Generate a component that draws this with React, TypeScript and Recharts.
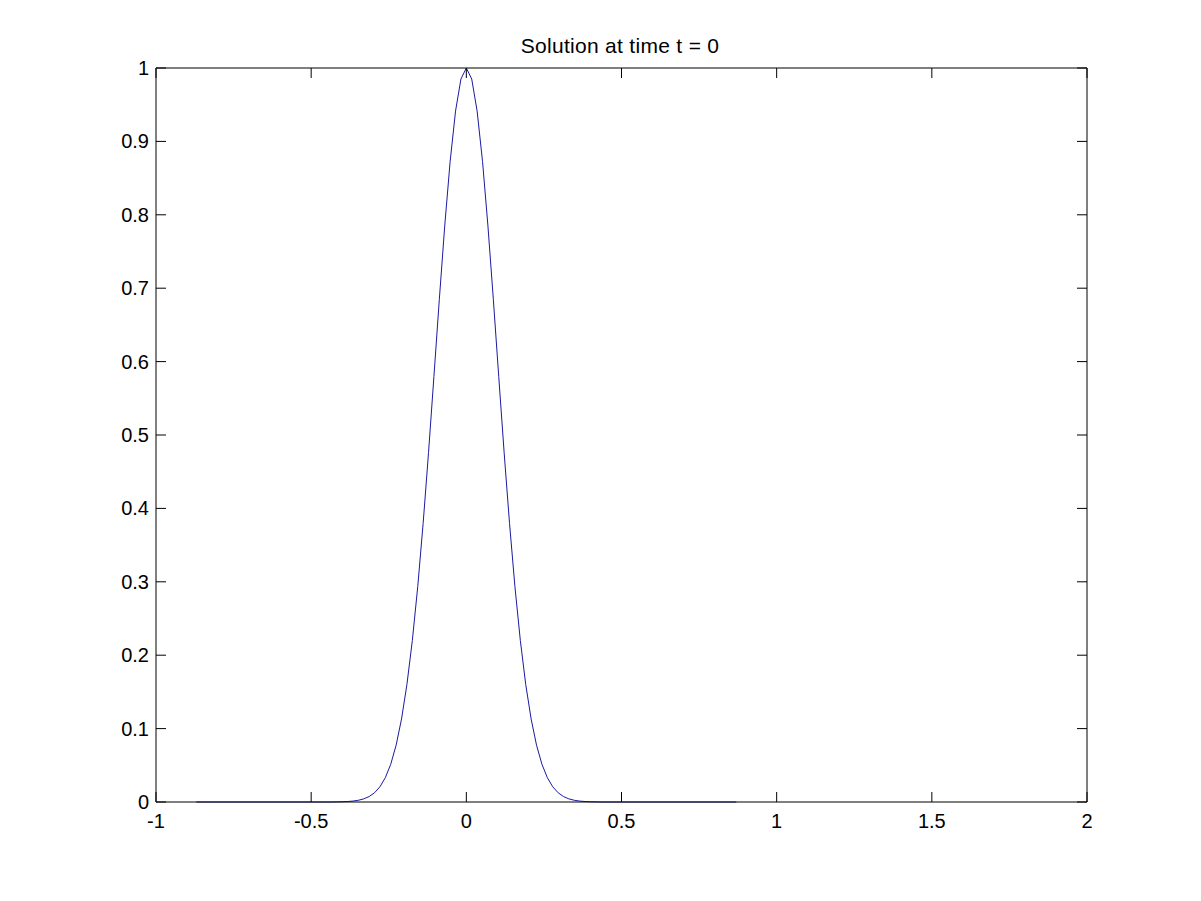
import { LineChart, Line, XAxis, YAxis } from "recharts";

// profile (grid step ~0.0174, flat zero tails)
const xs = [
  -0.87, -0.435, -0.4176, -0.4002, -0.3828, -0.3654, -0.348, -0.3306, -0.3132, -0.2958,
  -0.2784, -0.261, -0.2436, -0.2262, -0.2088, -0.1914, -0.174, -0.1566, -0.1392, -0.1218,
  -0.1044, -0.087, -0.0696, -0.0522, -0.0348, -0.0174, 0, 0.0174, 0.0348, 0.0522,
  0.0696, 0.087, 0.1044, 0.1218, 0.1392, 0.1566, 0.174, 0.1914, 0.2088, 0.2262,
  0.2436, 0.261, 0.2784, 0.2958, 0.3132, 0.3306, 0.348, 0.3654, 0.3828, 0.4002,
  0.4176, 0.435, 0.87,
];
const ys = [
  0, 0, 0.00016, 0.00033, 0.00066, 0.00126, 0.00234, 0.00423, 0.00741, 0.01259,
  0.02075, 0.03317, 0.05145, 0.07745, 0.1131, 0.16017, 0.22006, 0.29341, 0.37953, 0.47627,
  0.57987, 0.68494, 0.78489, 0.87263, 0.94124, 0.98498, 1, 0.98498, 0.94124, 0.87263,
  0.78489, 0.68494, 0.57987, 0.47627, 0.37953, 0.29341, 0.22006, 0.16017, 0.1131, 0.07745,
  0.05145, 0.03317, 0.02075, 0.01259, 0.00741, 0.00423, 0.00234, 0.00126, 0.00066, 0.00033,
  0.00016, 0, 0,
];
const xTicks = [-1, -0.5, 0, 0.5, 1, 1.5, 2];
const yTicks = [0, 0.1, 0.2, 0.3, 0.4, 0.5, 0.6, 0.7, 0.8, 0.9, 1];

const data = xs.map((x, i) => ({ x, y: ys[i] }));

const FONT = '"Liberation Sans", Arial, Helvetica, sans-serif';
const TICK = 10;

const BottomTick = (props: any) => {
  const { x, y, payload } = props;
  return (
    <g>
      <line x1={x} y1={y} x2={x} y2={y - TICK} stroke="#000" />
      <text x={x} y={y + 26} textAnchor="middle" fontSize={20} fontFamily={FONT} fill="#000">
        {String(payload.value)}
      </text>
    </g>
  );
};

const TopTick = (props: any) => {
  const { x, y } = props;
  return <line x1={x} y1={y} x2={x} y2={y + TICK} stroke="#000" />;
};

const LeftTick = (props: any) => {
  const { x, y, payload } = props;
  return (
    <g>
      <line x1={x} y1={y} x2={x + TICK} y2={y} stroke="#000" />
      <text x={x - 7} y={y + 7} textAnchor="end" fontSize={20} fontFamily={FONT} fill="#000">
        {String(payload.value)}
      </text>
    </g>
  );
};

const RightTick = (props: any) => {
  const { x, y } = props;
  return <line x1={x} y1={y} x2={x - TICK} y2={y} stroke="#000" />;
};

export default function App() {
  return (
    <div style={{ position: "absolute", left: 0, top: 0, width: 1201, height: 901, background: "#fff" }}>
      <div
        style={{
          position: "absolute",
          left: 0,
          width: 1240,
          top: 35,
          textAlign: "center",
          fontFamily: FONT,
          fontSize: 21,
          lineHeight: "21px",
          letterSpacing: 0.3,
          color: "#000",
        }}
      >
        Solution at time t = 0
      </div>
      <LineChart width={1201} height={901} data={data} margin={{ top: 67, right: 113, bottom: 0, left: 0 }}>
        <XAxis
          xAxisId="b"
          dataKey="x"
          type="number"
          domain={[-1, 2]}
          ticks={xTicks}
          height={99}
          tickSize={0}
          tickMargin={0}
          tickLine={false}
          axisLine={{ stroke: "#000" }}
          tick={<BottomTick />}
          interval={0}
        />
        <XAxis
          xAxisId="t"
          dataKey="x"
          type="number"
          orientation="top"
          domain={[-1, 2]}
          ticks={xTicks}
          height={1}
          tickSize={0}
          tickMargin={0}
          tickLine={false}
          axisLine={{ stroke: "#000" }}
          tick={<TopTick />}
          interval={0}
        />
        <YAxis
          yAxisId="l"
          type="number"
          domain={[0, 1]}
          ticks={yTicks}
          width={156}
          tickSize={0}
          tickMargin={0}
          tickLine={false}
          axisLine={{ stroke: "#000" }}
          tick={<LeftTick />}
          interval={0}
        />
        <YAxis
          yAxisId="r"
          type="number"
          orientation="right"
          domain={[0, 1]}
          ticks={yTicks}
          width={1}
          tickSize={0}
          tickMargin={0}
          tickLine={false}
          axisLine={{ stroke: "#000" }}
          tick={<RightTick />}
          interval={0}
        />
        {/* invisible copy so the top/right box axes get drawn */}
        <Line
          xAxisId="t"
          yAxisId="r"
          type="linear"
          dataKey="y"
          stroke="none"
          dot={false}
          activeDot={false}
          legendType="none"
          isAnimationActive={false}
        />
        <Line
          xAxisId="b"
          yAxisId="l"
          type="linear"
          dataKey="y"
          stroke="#1a1aa0"
          strokeWidth={1}
          dot={false}
          activeDot={false}
          isAnimationActive={false}
        />
      </LineChart>
    </div>
  );
}
